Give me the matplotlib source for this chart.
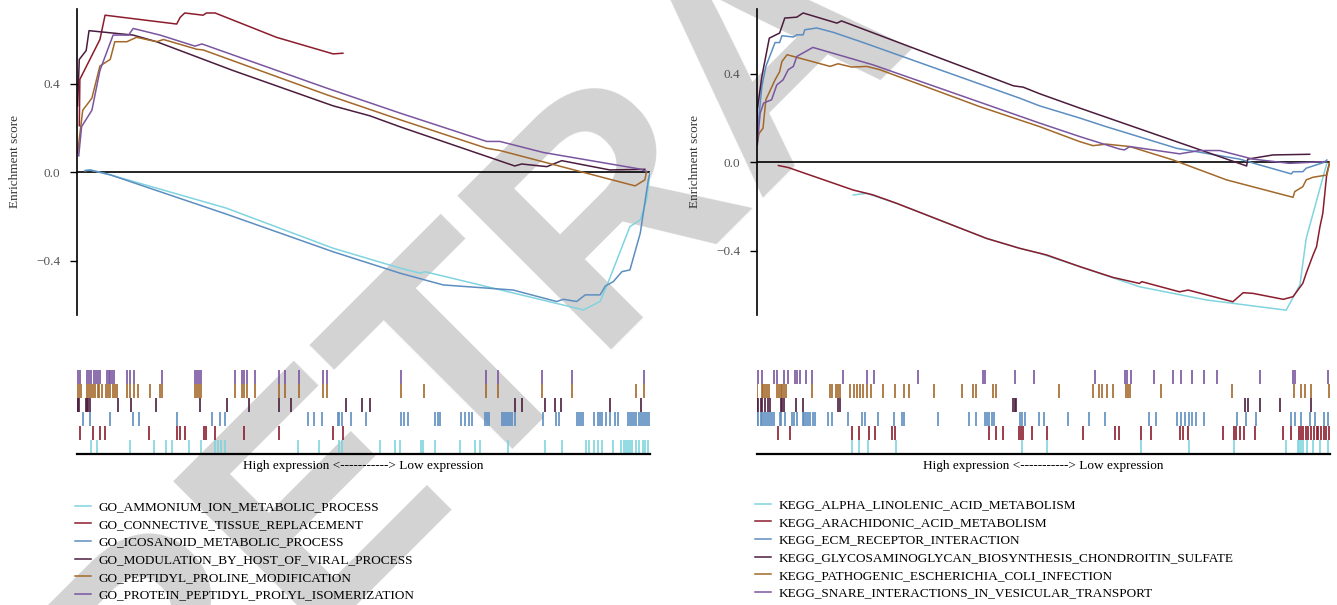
import matplotlib
matplotlib.use("Agg")
import matplotlib.pyplot as plt

# ---- GO gene sets (left) : x = rank position in % of list, y = enrichment score
go_names = ["GO_AMMONIUM_ION_METABOLIC_PROCESS", "GO_CONNECTIVE_TISSUE_REPLACEMENT",
            "GO_ICOSANOID_METABOLIC_PROCESS", "GO_MODULATION_BY_HOST_OF_VIRAL_PROCESS",
            "GO_PEPTIDYL_PROLINE_MODIFICATION", "GO_PROTEIN_PEPTIDYL_PROLYL_ISOMERIZATION"]

go_ammonium_x = [1.4, 2.3, 5.8, 26.1, 44.7, 56.4, 59.9, 60.7, 70.3, 88.4, 91.3, 92.4, 96.5, 98.3, 99.4, 100]
go_ammonium_y = [0.007, 0.01, -0.012, -0.163, -0.344, -0.434, -0.457, -0.45, -0.51, -0.623, -0.585, -0.518,
                 -0.246, -0.216, -0.125, -0.005]
go_connective_x = [0.4, 0.5, 4.0, 4.9, 17.4, 18.0, 18.8, 22.0, 22.6, 24.1, 34.8, 44.7, 46.4]
go_connective_y = [0.21, 0.42, 0.60, 0.71, 0.67, 0.70, 0.72, 0.71, 0.72, 0.72, 0.61, 0.535, 0.538]
go_icosanoid_x = [1.4, 2.3, 5.8, 26.1, 44.7, 56.4, 63.9, 76.1, 83.7, 84.9, 87.2, 88.7, 91.3, 92.2, 93.6, 95.1,
                  96.5, 98.3, 99.7, 100]
go_icosanoid_y = [0.007, 0.01, -0.012, -0.19, -0.36, -0.457, -0.51, -0.533, -0.585, -0.575, -0.585, -0.555,
                  -0.555, -0.515, -0.495, -0.45, -0.442, -0.276, -0.035, -0.002]
go_modulation_x = [0.1, 0.4, 1.6, 2.1, 9.8, 13.9, 27.2, 44.7, 51.1, 56.4, 76.4, 77.6, 82.0, 84.6, 93.0, 99.1]
go_modulation_y = [0.30, 0.51, 0.55, 0.64, 0.62, 0.59, 0.46, 0.30, 0.255, 0.205, 0.028, 0.037, 0.025, 0.052,
                   0.01, 0.013]
go_proline_x = [0.1, 1.0, 2.6, 4.0, 5.8, 6.6, 8.7, 10.4, 13.9, 15.1, 20.9, 22.0, 43.6, 56.4, 71.5, 73.8, 97.4,
                99.1, 99.4]
go_proline_y = [0.086, 0.28, 0.335, 0.48, 0.51, 0.59, 0.59, 0.61, 0.59, 0.60, 0.556, 0.553, 0.35, 0.237, 0.108,
                0.098, -0.062, -0.035, 0.003]
go_prolyl_x = [0.3, 0.8, 2.6, 4.0, 6.3, 9.0, 9.8, 14.5, 20.6, 21.8, 43.6, 56.4, 71.5, 73.8, 81.4, 98.3, 99.4]
go_prolyl_y = [0.074, 0.206, 0.28, 0.46, 0.62, 0.62, 0.65, 0.62, 0.57, 0.58, 0.38, 0.267, 0.139, 0.139, 0.089,
               0.014, 0.003]

# hit positions (rank %) for the rug rows
go_ammonium_hits = [2.4, 3.5, 9.3, 13.4, 15.6, 16.6, 19.5, 21.6, 24.1, 24.6, 25.1, 25.9, 38.5, 42.3, 45.8, 46.2,
                    52.9, 55.5, 56.3, 60.0, 60.4, 62.4, 66.9, 69.5, 70.4, 75.3, 81.6, 84.6, 88.8, 89.4, 90.2,
                    90.9, 91.7, 93.5, 95.0, 95.4, 95.8, 96.1, 96.5, 96.9, 97.6, 98.1, 98.7, 99.2, 99.7]
go_connective_hits = [0.5, 2.8, 4.1, 4.8, 12.5, 17.5, 17.9, 18.9, 22.1, 22.6, 24.1, 29.1, 35.2, 44.7, 46.4]
go_icosanoid_hits = [1.1, 2.2, 5.8, 9.7, 10.8, 17.5, 23.6, 25.0, 25.9, 40.4, 41.4, 42.8, 45.5, 45.8, 46.2, 47.8,
                     50.5, 56.5, 57.0, 57.7, 62.4, 63.0, 63.3, 67.1, 67.7, 68.4, 68.9, 71.2, 71.5, 71.9, 74.1,
                     74.5, 74.9, 75.3, 75.6, 76.0, 76.5, 81.4, 83.6, 84.1, 87.2, 87.6, 87.9, 88.3, 90.2, 90.9,
                     91.3, 91.7, 92.4, 93.0, 93.9, 94.5, 96.1, 96.5, 96.9, 97.2, 97.6, 98.0, 98.4, 98.7, 99.1,
                     99.5, 99.9]
go_modulation_hits = [0, 0.2, 0.4, 1.5, 1.7, 1.9, 2.2, 7.2, 9.5, 13.8, 21.5, 26.1, 30.0, 35.2, 37.3, 46.9, 49.7,
                      51.1, 76.5, 77.7, 81.7, 83.5, 84.4, 93.0, 98.4]
go_proline_hits = [0, 0.4, 0.7, 1.7, 2.1, 2.5, 2.8, 3.2, 3.6, 3.9, 4.3, 5.1, 5.4, 5.8, 6.2, 6.6, 6.9, 8.8, 9.3,
                   9.9, 10.6, 12.8, 14.5, 14.9, 20.6, 20.9, 21.3, 21.6, 27.6, 28.8, 29.1, 29.6, 31.1, 35.2,
                   36.3, 38.8, 43.0, 43.7, 56.5, 60.6, 71.4, 73.5, 81.1, 86.4, 97.6, 99.0]
go_prolyl_hits = [0.2, 0.6, 1.7, 2.1, 2.5, 2.9, 3.3, 3.7, 4.0, 5.2, 5.5, 5.8, 6.1, 6.4, 8.8, 9.3, 9.9, 14.8,
                  20.6, 20.9, 21.3, 21.6, 27.6, 28.8, 29.1, 29.6, 31.1, 35.2, 36.3, 38.8, 43.0, 43.7, 56.5,
                  71.4, 73.5, 81.1, 86.4, 99.0]

# ---- KEGG gene sets (right)
kegg_names = ["KEGG_ALPHA_LINOLENIC_ACID_METABOLISM", "KEGG_ARACHIDONIC_ACID_METABOLISM",
              "KEGG_ECM_RECEPTOR_INTERACTION", "KEGG_GLYCOSAMINOGLYCAN_BIOSYNTHESIS_CHONDROITIN_SULFATE",
              "KEGG_PATHOGENIC_ESCHERICHIA_COLI_INFECTION", "KEGG_SNARE_INTERACTIONS_IN_VESICULAR_TRANSPORT"]

kegg_alpha_x = [16.85, 19.2, 24.4, 40.1, 45.9, 49.4, 56.4, 66.8, 78.5, 92.4, 94.8, 95.9, 99.5]
kegg_alpha_y = [-0.148, -0.141, -0.186, -0.345, -0.39, -0.413, -0.473, -0.564, -0.624, -0.67, -0.556, -0.345,
                -0.005]
kegg_arach_x = [3.8, 5.5, 16.85, 20.3, 24.4, 40.1, 45.9, 50.6, 56.4, 62.2, 66.8, 67.2, 73.8, 75.3, 83.1, 84.9,
                86.6, 91.9, 93.6, 95.3, 95.9, 97.1, 97.7, 98.3, 98.8, 99.5, 100]
kegg_arach_y = [-0.015, -0.024, -0.126, -0.148, -0.186, -0.345, -0.39, -0.42, -0.473, -0.522, -0.549, -0.541,
                -0.587, -0.579, -0.632, -0.591, -0.594, -0.621, -0.609, -0.549, -0.503, -0.42, -0.383, -0.292,
                -0.231, -0.05, 0]
kegg_ecm_x = [0.1, 0.9, 1.6, 3.2, 4.0, 4.4, 6.4, 7.0, 8.1, 8.4, 10.5, 13.4, 18.6, 45.9, 49.4, 56.4, 60.5, 73.3,
              76.7, 84.3, 87.2, 93.3, 93.6, 95.3, 95.9, 99.1, 99.5]
kegg_ecm_y = [0.13, 0.343, 0.434, 0.542, 0.542, 0.573, 0.567, 0.577, 0.577, 0.6, 0.608, 0.588, 0.542, 0.29, 0.255,
              0.2, 0.165, 0.063, 0.048, 0.014, -0.008, -0.053, -0.043, -0.043, -0.027, 0, 0.01]
kegg_glyco_x = [0, 0.1, 0.9, 2.2, 4.0, 4.9, 7.0, 8.1, 14.0, 14.8, 44.8, 46.5, 49.4, 56.4, 85.5, 85.7, 90.1, 96.5]
kegg_glyco_y = [0.10, 0.237, 0.388, 0.562, 0.585, 0.653, 0.657, 0.676, 0.63, 0.64, 0.346, 0.34, 0.31, 0.245,
                -0.017, 0.014, 0.033, 0.036]
kegg_patho_x = [0.1, 0.4, 1.1, 1.6, 3.2, 4.0, 4.4, 5.3, 12.8, 14.2, 16.6, 19.2, 21.5, 38.9, 49.4, 56.4, 58.7,
                61.0, 65.1, 72.7, 82.0, 93.6, 93.9, 95.3, 95.9, 97.1, 99.5, 100]
kegg_patho_y = [0.086, 0.13, 0.154, 0.283, 0.373, 0.41, 0.456, 0.487, 0.434, 0.446, 0.431, 0.434, 0.419, 0.252,
                0.161, 0.093, 0.075, 0.082, 0.071, 0.01, -0.08, -0.159, -0.133, -0.111, -0.08, -0.068, -0.058, 0]
kegg_snare_x = [0.1, 0.6, 1.2, 2.6, 3.5, 4.6, 5.5, 6.4, 7.0, 9.8, 20.3, 49.4, 56.4, 63.4, 64.2, 65.1, 73.8, 77.3,
                80.8, 86.6, 93.0, 99.4]
kegg_snare_y = [0.078, 0.222, 0.268, 0.283, 0.35, 0.373, 0.419, 0.434, 0.479, 0.52, 0.441, 0.177, 0.116, 0.059,
                0.056, 0.071, 0.038, 0.053, 0.053, 0.014, -0.005, 0.003]

kegg_alpha_hits = [16.6, 17.9, 19.5, 24.3, 46.3, 50.7, 67.1, 75.4, 83.3, 92.4, 94.4, 94.7, 95.0, 95.3, 96.0,
                   97.0, 98.3, 99.7]
kegg_arach_hits = [3.7, 5.8, 16.6, 17.9, 19.6, 20.6, 23.6, 24.1, 40.5, 41.7, 43.0, 45.7, 46.1, 46.5, 48.0, 50.7,
                   56.9, 62.5, 63.3, 67.1, 68.8, 73.8, 74.4, 75.3, 81.4, 83.3, 83.7, 84.4, 85.1, 87.0, 91.9,
                   93.2, 94.6, 95.0, 95.3, 95.9, 96.3, 96.7, 97.2, 97.7, 98.0, 98.5, 99.0, 99.3, 99.9]
kegg_ecm_hits = [0, 0.3, 0.7, 1.0, 1.3, 1.7, 2.0, 2.3, 2.7, 3.0, 4.0, 4.3, 5.0, 6.2, 6.5, 7.0, 8.0, 8.3, 8.6,
                 9.0, 9.3, 9.8, 10.2, 12.4, 13.2, 15.9, 18.3, 18.9, 21.1, 23.9, 25.3, 25.7, 31.6, 37.0, 38.3,
                 39.9, 40.2, 40.5, 41.0, 41.4, 46.0, 46.3, 46.8, 49.2, 50.2, 54.3, 58.0, 60.7, 68.4, 69.7, 73.3,
                 74.0, 74.8, 75.4, 76.0, 76.7, 78.1, 83.9, 85.4, 87.2, 93.2, 94.0, 95.0, 96.5, 97.5, 99.0, 99.7]
kegg_glyco_hits = [0, 0.3, 0.7, 1.0, 1.5, 2.0, 2.3, 4.2, 4.5, 4.8, 6.8, 8.0, 14.2, 14.6, 44.7, 45.0, 45.2, 85.2,
                   85.7, 87.9, 91.4, 96.7]
kegg_patho_hits = [0, 0.9, 1.1, 1.5, 1.8, 2.2, 3.5, 3.9, 4.2, 4.5, 4.8, 5.1, 9.6, 12.8, 13.1, 13.8, 14.2, 14.6,
                   16.3, 16.9, 17.5, 18.1, 18.6, 19.3, 19.9, 22.1, 24.1, 25.7, 26.5, 30.9, 35.9, 37.7, 38.2,
                   41.2, 41.7, 52.7, 58.7, 59.8, 60.3, 61.1, 62.1, 64.5, 64.8, 65.1, 70.6, 82.9, 93.7, 95.0,
                   95.7, 96.7, 99.9]
kegg_snare_hits = [0.2, 0.9, 3.0, 3.5, 4.7, 5.5, 6.6, 7.0, 7.6, 8.6, 9.6, 15.1, 19.3, 20.5, 28.1, 39.5, 39.9,
                   45.0, 48.4, 59.1, 64.3, 64.6, 65.3, 69.4, 72.6, 74.1, 75.9, 78.1, 80.4, 87.9, 93.6, 93.9, 99.7]

colors = ["#80d4df", "#8b1c2c", "#5c8ec1", "#4b1c3e", "#a3682a", "#7a55a0"]

plt.rcParams['font.family'] = ['Liberation Serif', 'DejaVu Serif']

fig = plt.figure(figsize=(13.37, 6.05), dpi=100)
W, H = 1337.0, 605.0

# watermark behind everything (word starts below the bottom-left corner)
fig.text(0.109, -0.314, "RETRACTED", rotation=45, rotation_mode='anchor', ha='left', va='baseline',
         fontsize=227, fontweight='bold', family='Liberation Sans', color='#d3d3d3', zorder=-5)


def draw_panel(x0, ylim, curves, hits, names, leg_top):
    ax = fig.add_axes([x0 / W, 1 - 315 / H, 573 / W, 306 / H])
    ax.patch.set_alpha(0)
    for (xs, ys), c, n in zip(curves, colors, names):
        ax.plot(xs, ys, color=c, lw=1.1, label=n)
    ax.axhline(0, color='black', lw=1.2, zorder=1)
    ax.set_xlim(0, 100)
    ax.set_ylim(*ylim)
    for s in ['top', 'right', 'bottom']:
        ax.spines[s].set_visible(False)
    ax.spines['left'].set_linewidth(1.2)
    ax.set_xticks([])
    ax.set_yticks([-0.4, 0.0, 0.4])
    ax.set_yticklabels(['\u22120.4', '0.0', '0.4'])
    ax.tick_params(axis='y', length=5, width=1.0, labelsize=9.5, labelcolor='#555555', pad=7)
    ax.set_ylabel('Enrichment score', fontsize=9.5, color='#333333', labelpad=11)

    rug = fig.add_axes([x0 / W, 1 - 454 / H, 573 / W, 84 / H])
    rug.patch.set_alpha(0)
    for i, (h, c) in enumerate(zip(hits, colors)):
        rug.vlines(h, i, i + 1, color=c, lw=1.2)
    rug.set_xlim(0, 100)
    rug.set_ylim(0, 6)
    for s in ['top', 'right', 'left']:
        rug.spines[s].set_visible(False)
    rug.spines['bottom'].set_linewidth(1.6)
    rug.set_xticks([])
    rug.set_yticks([])
    rug.set_xlabel('High expression <-----------> Low expression', fontsize=9.5, labelpad=4.5)

    handles, labels = ax.get_legend_handles_labels()
    fig.legend(handles, labels, loc='upper left', bbox_to_anchor=((x0 - 2) / W, 1 - leg_top / H),
               frameon=False, fontsize=9.5, handlelength=1.2, handletextpad=0.6,
               labelspacing=0.41, borderaxespad=0, borderpad=0)


draw_panel(77, (-0.646, 0.738),
           [(go_ammonium_x, go_ammonium_y), (go_connective_x, go_connective_y),
            (go_icosanoid_x, go_icosanoid_y), (go_modulation_x, go_modulation_y),
            (go_proline_x, go_proline_y), (go_prolyl_x, go_prolyl_y)],
           [go_ammonium_hits, go_connective_hits, go_icosanoid_hits, go_modulation_hits,
            go_proline_hits, go_prolyl_hits], go_names, 501)

draw_panel(756.7, (-0.692, 0.694),
           [(kegg_alpha_x, kegg_alpha_y), (kegg_arach_x, kegg_arach_y), (kegg_ecm_x, kegg_ecm_y),
            (kegg_glyco_x, kegg_glyco_y), (kegg_patho_x, kegg_patho_y), (kegg_snare_x, kegg_snare_y)],
           [kegg_alpha_hits, kegg_arach_hits, kegg_ecm_hits, kegg_glyco_hits, kegg_patho_hits,
            kegg_snare_hits], kegg_names, 499)

fig.savefig('out.png', dpi=100)
